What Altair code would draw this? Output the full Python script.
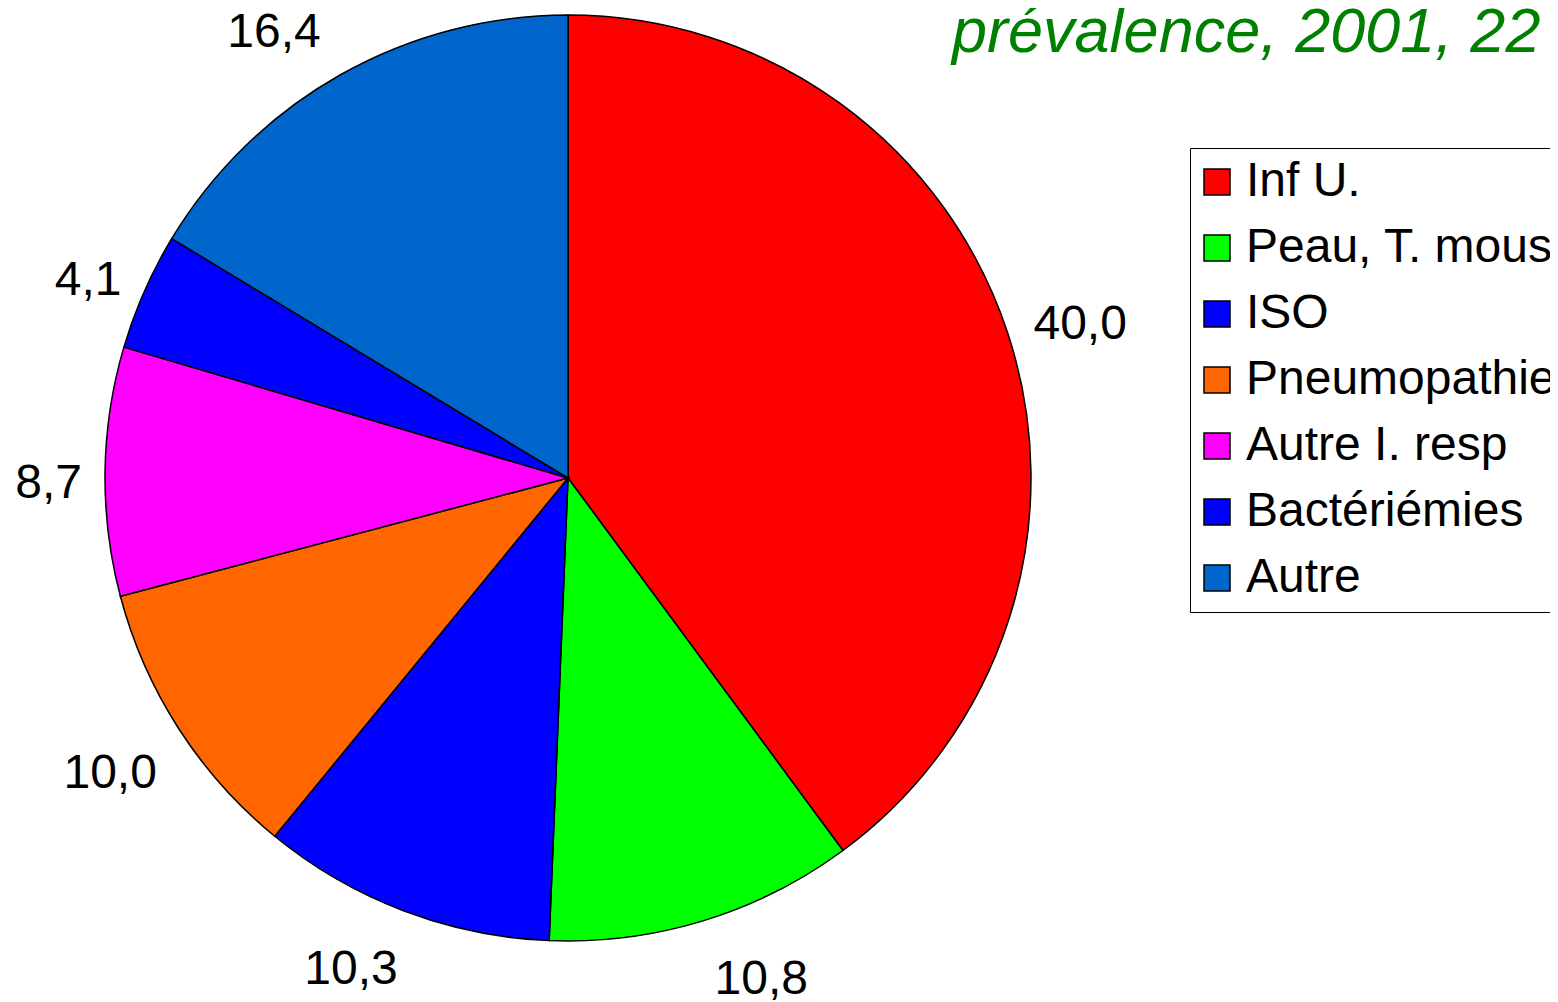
import altair as alt
import pandas as pd

categories = ["Inf U.", "Peau, T. mous", "ISO", "Pneumopathie", "Autre I. resp", "Bactériémies", "Autre"]
values = [40.0, 10.8, 10.3, 10.0, 8.7, 4.1, 16.4]
colors = ["#FF0000", "#00FF00", "#0000FF", "#FF6600", "#FF00FF", "#0000FF", "#0066CC"]
title_text = "prévalence, 2001, 22"

df = pd.DataFrame({
    "category": categories,
    "value": values,
    "order": list(range(len(categories))),
    "label": [f"{v:.1f}".replace(".", ",") for v in values],
})
total = float(sum(values))

FONT = "Liberation Sans"
CX, CY = 560, 470

pie = alt.Chart(df).mark_arc(outerRadius=463, stroke="black", strokeWidth=1.5).encode(
    theta=alt.Theta("value:Q", stack=True),
    order=alt.Order("order:Q"),
    x=alt.value(CX),
    y=alt.value(CY),
    color=alt.Color(
        "category:N",
        sort=categories,
        scale=alt.Scale(domain=categories, range=colors),
        legend=alt.Legend(
            orient="none", legendX=1182, legendY=140, title=None,
            symbolType="square", symbolSize=676, symbolStrokeColor="black",
            symbolStrokeWidth=1.5, symbolOpacity=1, symbolOffset=-7,
            labelFontSize=48, labelFont=FONT, labelColor="black",
            labelOffset=5, rowPadding=18, padding=10,
            strokeColor="black", fillColor="white", labelLimit=1000,
        ),
    ),
)

label_base = alt.Chart(df).transform_window(
    cum="sum(value)", sort=[alt.SortField("order")]
).transform_calculate(
    mid="datum.cum - datum.value / 2"
)


def label_layer(cats, align, baseline, radius, dx=0, dy=0):
    return label_base.transform_filter(
        alt.FieldOneOfPredicate(field="category", oneOf=cats)
    ).mark_text(
        radius=radius, fontSize=48, font=FONT, color="black",
        align=align, baseline=baseline, dx=dx, dy=dy,
    ).encode(
        theta=alt.Theta("mid:Q", stack=None, scale=alt.Scale(domain=[0, total])),
        x=alt.value(CX),
        y=alt.value(CY),
        text="label:N",
    )


labels = [
    label_layer(["Inf U."], "left", "middle", 490),
    label_layer(["Peau, T. mous"], "left", "top", 500),
    label_layer(["ISO", "Pneumopathie"], "right", "top", 496, dx=6, dy=4),
    label_layer(["Autre I. resp"], "right", "middle", 488, dx=2, dy=13),
    label_layer(["Bactériémies"], "right", "middle", 488),
    label_layer(["Autre"], "right", "bottom", 489, dx=-7, dy=5),
]

title = alt.Chart(pd.DataFrame({"t": [title_text]})).mark_text(
    font=FONT, fontSize=63, fontStyle="italic", color="#008000",
    align="left", baseline="alphabetic",
).encode(text="t:N", x=alt.value(944), y=alt.value(44))

chart = alt.layer(pie, *labels, title).properties(
    width=1542, height=994, padding=0, background="white",
    autosize=alt.AutoSizeParams(type="none"),
).configure_view(stroke=None)

chart.save("out.html", embed_options={"renderer": "svg", "actions": False})
